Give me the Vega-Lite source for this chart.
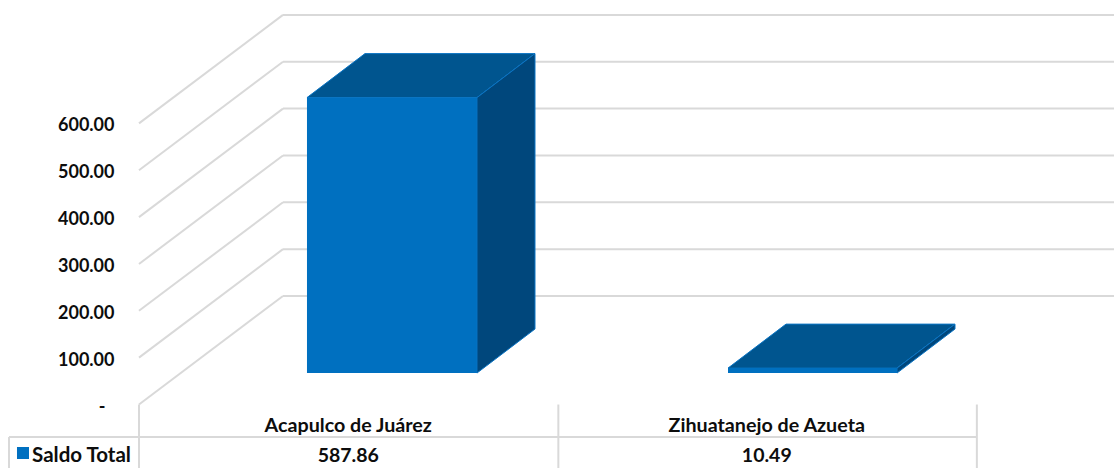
{"$schema":"https://vega.github.io/schema/vega-lite/v6.json","width":1114,"height":468,"padding":0,"autosize":{"type":"none"},"background":"white","config":{"view":{"stroke":null},"text":{"font":"Lato","fontWeight":"bold","fontSize":18.5,"color":"#0d0d0d"}},
"datasets":{
"grid":[
{"valor":0,"x":0,"y":0,"x2":0.3441,"y2":231.6},{"valor":100,"x":0,"y":100,"x2":0.3441,"y2":331.6},{"valor":200,"x":0,"y":200,"x2":0.3441,"y2":431.6},{"valor":300,"x":0,"y":300,"x2":0.3441,"y2":531.6},{"valor":400,"x":0,"y":400,"x2":0.3441,"y2":631.6},{"valor":500,"x":0,"y":500,"x2":0.3441,"y2":731.6},{"valor":600,"x":0,"y":600,"x2":0.3441,"y2":831.6},
{"valor":0,"x":0.3441,"y":231.6,"x2":2.3297,"y2":231.6},{"valor":100,"x":0.3441,"y":331.6,"x2":2.3297,"y2":331.6},{"valor":200,"x":0.3441,"y":431.6,"x2":2.3297,"y2":431.6},{"valor":300,"x":0.3441,"y":531.6,"x2":2.3297,"y2":531.6},{"valor":400,"x":0.3441,"y":631.6,"x2":2.3297,"y2":631.6},{"valor":500,"x":0.3441,"y":731.6,"x2":2.3297,"y2":731.6},{"valor":600,"x":0.3441,"y":831.6,"x2":2.3297,"y2":831.6},
{"valor":"col0","x":0,"y":0,"x2":0,"y2":-135.5},{"valor":"col1","x":1.002,"y":0,"x2":1.002,"y2":-135.5},{"valor":"col2","x":2.002,"y":0,"x2":2.002,"y2":-135.5},{"valor":"fila","x":-0.3106,"y":-69.4,"x2":2.002,"y2":-69.4},{"valor":"izq","x":-0.3106,"y":-69.4,"x2":-0.3106,"y2":-135.5}],
"front":[{"municipio":"Acapulco de Juárez","x":0.4014,"x2":0.8076,"y":67.2,"y2":655.06},{"municipio":"Zihuatanejo de Azueta","x":1.4074,"x2":1.8112,"y":67.2,"y2":77.69}],
"top":[{"municipio":"Acapulco de Juárez","x":0.4014,"x2":0.8076,"y":655.06},{"municipio":"Acapulco de Juárez","x":0.54,"x2":0.9462,"y":749},{"municipio":"Zihuatanejo de Azueta","x":1.4074,"x2":1.8112,"y":77.69},{"municipio":"Zihuatanejo de Azueta","x":1.546,"x2":1.9498,"y":171.6}],
"side":[{"municipio":"Acapulco de Juárez","x":0.8076,"y":67.2,"y2":655.06},{"municipio":"Acapulco de Juárez","x":0.9462,"y":161.1,"y2":749},{"municipio":"Zihuatanejo de Azueta","x":1.8112,"y":67.2,"y2":77.69},{"municipio":"Zihuatanejo de Azueta","x":1.9498,"y":161.1,"y2":171.6}],
"nombres":[{"texto":"Acapulco de Juárez","x":0.5,"y":-45.5},{"texto":"Zihuatanejo de Azueta","x":1.5,"y":-45.5}],
"valores":[{"texto":"587.86","x":0.5,"y":-109.5},{"texto":"10.49","x":1.5,"y":-109.5}],
"cero":[{"texto":"-","x":-0.0884,"y":-6.5}],
"serie":[{"texto":"Saldo Total","x":-0.2555,"y":-109.5,"sx":-0.2915,"sx2":-0.2628,"sy":-90.7,"sy2":-116.3}]
},
"layer":[
{"data":{"name":"grid"},"mark":{"type":"rule","color":"#D9D9D9","strokeWidth":2},
"encoding":{"x":{"field":"x","type":"quantitative","scale":{"domain":[-0.3321,2.3297],"nice":false,"zero":false},"axis":null},
"y":{"field":"y","type":"quantitative","scale":{"domain":[-135.5,863.4],"nice":false,"zero":false},
"axis":{"values":[100,200,300,400,500,600],"offset":-114,"domain":false,"ticks":false,"grid":false,"title":null,"labelPadding":0,"labelOffset":2.5,"labelFont":"Lato","labelFontWeight":"bold","labelFontSize":18,"labelColor":"#0d0d0d","format":".2f"}},
"x2":{"field":"x2"},"y2":{"field":"y2"}}},
{"data":{"name":"top"},"mark":{"type":"area","orient":"horizontal","color":"#00558F","stroke":"#0A74C4","strokeWidth":1},
"encoding":{"y":{"field":"y","type":"quantitative"},"x":{"field":"x","type":"quantitative"},"x2":{"field":"x2"},"detail":{"field":"municipio"}}},
{"data":{"name":"side"},"mark":{"type":"area","orient":"vertical","color":"#00477C","stroke":"#0A74C4","strokeWidth":1},
"encoding":{"x":{"field":"x","type":"quantitative"},"y":{"field":"y","type":"quantitative"},"y2":{"field":"y2"},"detail":{"field":"municipio"}}},
{"data":{"name":"front"},"mark":{"type":"rect","color":"#0070C0"},
"encoding":{"x":{"field":"x","type":"quantitative"},"x2":{"field":"x2"},"y":{"field":"y","type":"quantitative"},"y2":{"field":"y2"}}},
{"data":{"name":"cero"},"mark":{"type":"text","align":"center","baseline":"middle","fontSize":18},
"encoding":{"x":{"field":"x","type":"quantitative"},"y":{"field":"y","type":"quantitative"},"text":{"field":"texto"}}},
{"data":{"name":"nombres"},"mark":{"type":"text","align":"center","baseline":"middle","fontSize":19.7},
"encoding":{"x":{"field":"x","type":"quantitative"},"y":{"field":"y","type":"quantitative"},"text":{"field":"texto"}}},
{"data":{"name":"valores"},"mark":{"type":"text","align":"center","baseline":"middle","fontSize":19.5},
"encoding":{"x":{"field":"x","type":"quantitative"},"y":{"field":"y","type":"quantitative"},"text":{"field":"texto"}}},
{"data":{"name":"serie"},"mark":{"type":"text","align":"left","baseline":"middle","fontSize":20.5},
"encoding":{"x":{"field":"x","type":"quantitative"},"y":{"field":"y","type":"quantitative"},"text":{"field":"texto"}}},
{"data":{"name":"serie"},"mark":{"type":"rect","color":"#0070C0"},
"encoding":{"x":{"field":"sx","type":"quantitative"},"x2":{"field":"sx2"},"y":{"field":"sy","type":"quantitative"},"y2":{"field":"sy2"}}}
]}
